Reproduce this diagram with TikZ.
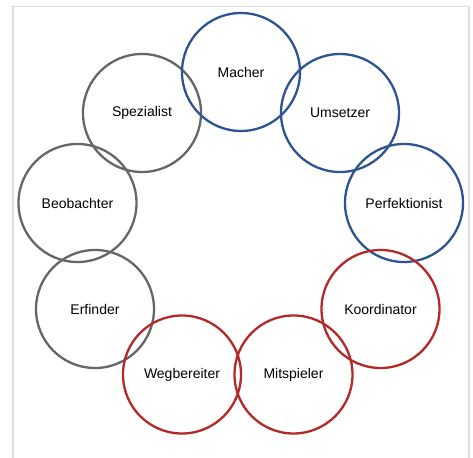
\documentclass[tikz,border=0pt]{standalone}
\usepackage{fontspec}
\setmainfont{Liberation Sans}
\definecolor{cblue}{RGB}{46,85,145}
\definecolor{cgray}{RGB}{102,102,102}
\definecolor{cred}{RGB}{180,40,40}
\definecolor{frame}{RGB}{222,222,222}
\tikzset{
  role/.style={circle, draw, line width=2.3pt, minimum size=118pt, inner sep=0pt, font=\fontsize{14}{16}\selectfont, text=black},
  bluec/.style={role, draw=cblue},
  grayc/.style={role, draw=cgray},
  redc/.style={role, draw=cred}
}
\begin{document}
\begin{tikzpicture}[x=1pt,y=-1pt]
\useasboundingbox (0,0) rectangle (473,457);
\fill[white] (0,0) rectangle (473,457);
\draw[frame, line width=1.2pt] (13,470) -- (13,6.5) -- (469,6.5) -- (469,470);
\node[grayc] (spez) at (142,113) {Spezialist};
\node[grayc] (beob) at (77.5,203) {Beobachter};
\node[grayc] (erf) at (95,309) {Erfinder};
\node[bluec] (mach) at (241,72) {Macher};
\node[bluec] (ums) at (340,113) {Umsetzer};
\node[bluec] (perf) at (404,203) {Perfektionist};
\node[redc] (koord) at (380.5,309) {Koordinator};
\node[redc] (weg) at (182,374.5) {Wegbereiter};
\node[redc] (mit) at (293.5,374.5) {Mitspieler};
\end{tikzpicture}
\end{document}
